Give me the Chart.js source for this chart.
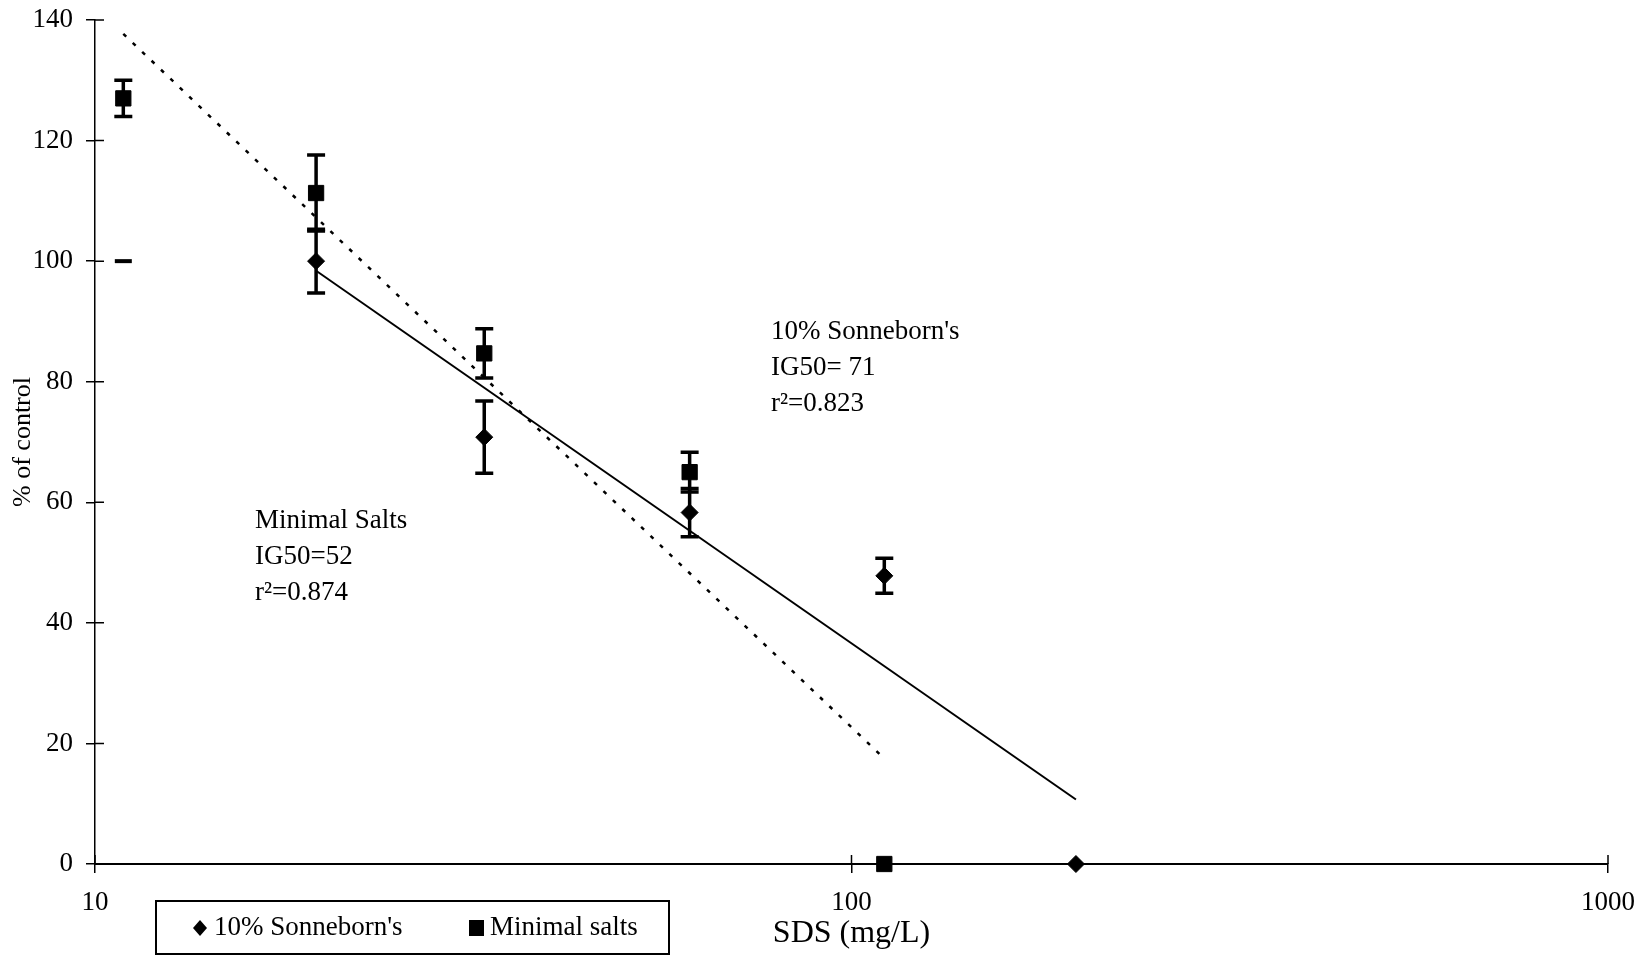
<!DOCTYPE html>
<html><head><meta charset="utf-8">
<script src="https://cdn.jsdelivr.net/npm/chart.js@4.4.1/dist/chart.umd.min.js"></script>
<style>html,body{margin:0;padding:0;background:#fff;}#wrap{width:1650px;height:956px;position:relative;}</style>
</head><body><div id="wrap"><canvas id="c" width="1650" height="956"></canvas></div>
<script>
// ---- data ----
const sonX = [10.9, 19.6, 32.7, 61.1, 110.5, 198];
const sonY = [100, 100, 70.8, 58.3, 47.8, 0];
const sonErr = [0, 5.3, 6.0, 4.0, 2.9, 0];
const msX = [10.9, 19.6, 32.7, 61.1, 110.5];
const msY = [127, 111.3, 84.7, 65.0, 0];
const msErr = [3.0, 6.3, 4.1, 3.3, 0];
const sonTrendX = [19.6, 198];
const sonTrendY = [98.4, 10.7];
const msTrendX = [10.9, 110.5];
const msTrendY = [137.7, 17.5];
const xTicks = [10, 100, 1000];
const yTicks = [0, 20, 40, 60, 80, 100, 120, 140];
const seriesNames = ["10% Sonneborn's", "Minimal salts"];
const annSon = ["10% Sonneborn's", "IG50= 71", "r\u00B2=0.823"];
const annMs = ["Minimal Salts", "IG50=52", "r\u00B2=0.874"];
const xTitle = "SDS (mg/L)";
const yTitle = "% of control";

const FONT = "'Liberation Serif', 'Times New Roman', serif";
const pts = (xs, ys) => xs.map((x, i) => ({x: x, y: ys[i]}));

const errorBars = {
  id: 'errorBars',
  afterDatasetsDraw(chart) {
    const ctx = chart.ctx, xs = chart.scales.x, ys = chart.scales.y;
    ctx.save();
    ctx.strokeStyle = '#000'; ctx.lineWidth = 3.5; ctx.lineCap = 'butt';
    chart.data.datasets.forEach(ds => {
      if (!ds.errors) return;
      ds.data.forEach((p, i) => {
        const e = ds.errors[i];
        if (!e) return;
        const px = xs.getPixelForValue(p.x);
        const top = ys.getPixelForValue(p.y + e), bot = ys.getPixelForValue(p.y - e);
        ctx.beginPath();
        ctx.moveTo(px, top); ctx.lineTo(px, bot);
        ctx.moveTo(px - 9, top); ctx.lineTo(px + 9, top);
        ctx.moveTo(px - 9, bot); ctx.lineTo(px + 9, bot);
        ctx.stroke();
      });
    });
    ctx.restore();
  }
};

const innerTicks = {
  id: 'innerTicks',
  afterDraw(chart) {
    const ctx = chart.ctx, xs = chart.scales.x, ys = chart.scales.y, a = chart.chartArea;
    ctx.save();
    ctx.strokeStyle = '#000'; ctx.lineWidth = 1.5;
    ctx.beginPath();
    ys.ticks.forEach(t => { const py = ys.getPixelForValue(t.value); ctx.moveTo(a.left, py); ctx.lineTo(a.left + 9, py); });
    xs.ticks.forEach(t => { const px = xs.getPixelForValue(t.value); ctx.moveTo(px, a.bottom); ctx.lineTo(px, a.bottom - 9); });
    ctx.stroke();
    ctx.restore();
  }
};

const textPlugin = {
  id: 'textPlugin',
  afterDraw(chart) {
    const ctx = chart.ctx;
    ctx.save();
    ctx.fillStyle = '#000';
    ctx.font = '27px ' + FONT;
    ctx.textBaseline = 'middle'; ctx.textAlign = 'left';
    annSon.forEach((s, i) => ctx.fillText(s, 771, 332 + i * 36));
    annMs.forEach((s, i) => ctx.fillText(s, 255, 521 + i * 36));
    // legend box
    ctx.strokeStyle = '#000'; ctx.lineWidth = 2;
    ctx.strokeRect(156, 901, 513, 53);
    const cy = 928;
    ctx.beginPath();
    ctx.moveTo(200, cy - 8); ctx.lineTo(207, cy); ctx.lineTo(200, cy + 8); ctx.lineTo(193, cy); ctx.closePath();
    ctx.fill();
    ctx.fillRect(469, cy - 8, 15, 16);
    ctx.fillText(seriesNames[0], 214, cy);
    ctx.fillText(seriesNames[1], 490, cy);
    ctx.restore();
  }
};

new Chart(document.getElementById('c'), {
  type: 'scatter',
  data: {
    datasets: [
      { label: seriesNames[0], data: pts(sonX, sonY), errors: sonErr, clip: false,
        pointStyle: c => c.dataIndex === 0 ? 'line' : 'rectRot',
        pointRadius: 8.5,
        pointBorderWidth: c => c.dataIndex === 0 ? 4 : 1,
        backgroundColor: '#000', borderColor: '#000' },
      { label: seriesNames[1], data: pts(msX, msY), errors: msErr, clip: false,
        pointStyle: 'rect', pointRadius: 10.8, pointBorderWidth: 1,
        backgroundColor: '#000', borderColor: '#000' },
      { label: 'trend1', data: pts(sonTrendX, sonTrendY), showLine: true, pointRadius: 0,
        borderColor: '#000', borderWidth: 2, fill: false },
      { label: 'trend2', data: pts(msTrendX, msTrendY), showLine: true, pointRadius: 0,
        borderColor: '#000', borderWidth: 2.5, borderDash: [4, 9], fill: false }
    ]
  },
  options: {
    responsive: false, animation: false, devicePixelRatio: 1,
    layout: { padding: { top: 20, right: 42, left: 0, bottom: 0 } },
    plugins: { legend: { display: false }, tooltip: { enabled: false } },
    scales: {
      x: {
        type: 'logarithmic', min: 10, max: 1000,
        afterBuildTicks: s => { s.ticks = xTicks.map(v => ({value: v})); },
        afterFit: s => { s.height = 92; s.paddingLeft = 0; s.paddingRight = 0; },
        ticks: { color: '#000', font: { family: FONT, size: 27 }, padding: 14, maxRotation: 0,
                 callback: v => String(v) },
        grid: { display: true, drawOnChartArea: false, drawTicks: true, tickLength: 9, color: '#000', lineWidth: 1.5 },
        border: { display: true, color: '#000', width: 2 },
        title: { display: true, text: xTitle, color: '#000', font: { family: FONT, size: 32 }, padding: { top: 0, bottom: 3 } }
      },
      y: {
        min: 0, max: 140,
        afterBuildTicks: s => { s.ticks = yTicks.map(v => ({value: v})); },
        afterFit: s => { s.width = 95; s.paddingTop = 0; s.paddingBottom = 0; },
        ticks: { color: '#000', font: { family: FONT, size: 27 }, padding: 13 },
        grid: { display: true, drawOnChartArea: false, drawTicks: true, tickLength: 9, color: '#000', lineWidth: 1.5 },
        border: { display: true, color: '#000', width: 1.5 },
        title: { display: true, text: yTitle, color: '#000', font: { family: FONT, size: 26 }, padding: { top: 8, bottom: 0 } }
      }
    }
  },
  plugins: [errorBars, innerTicks, textPlugin]
});
</script></body></html>
